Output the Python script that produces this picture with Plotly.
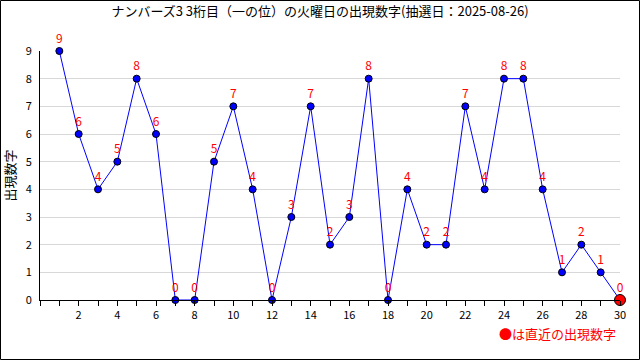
import plotly.graph_objects as go

draws = list(range(1, 31))
values = [9, 6, 4, 5, 8, 6, 0, 0, 5, 7, 4, 0, 3, 7, 2, 3, 8, 0, 4, 2, 2, 7, 4, 8, 8, 4, 1, 2, 1, 0]
title = "ナンバーズ3 3桁目（一の位）の火曜日の出現数字(抽選日：2025-08-26)"
y_title = "出現数字"
note = "●は直近の出現数字"
x_ticks = list(range(2, 31, 2))
y_ticks = list(range(0, 10))

FONT = "Noto Sans CJK JP"

fig = go.Figure()
fig.add_trace(go.Scatter(
    x=draws, y=values, mode="lines+markers+text",
    line=dict(color="#0000ff", width=1),
    marker=dict(color="#0000ff", size=7, line=dict(color="black", width=1)),
    text=[str(v) for v in values], textposition="top center",
    textfont=dict(color="#ff0000", size=12, family=FONT),
    cliponaxis=False, showlegend=False, hoverinfo="skip",
))
fig.add_trace(go.Scatter(
    x=[draws[-1]], y=[values[-1]], mode="markers",
    marker=dict(color="#ff0000", size=11, line=dict(color="black", width=1)),
    cliponaxis=False, showlegend=False, hoverinfo="skip",
))

L, R, T, B = 40, 20, 51, 60
W, H = 640, 360
pw, ph = W - L - R, H - T - B

fig.update_layout(
    width=W, height=H,
    margin=dict(l=L, r=R, t=T, b=B, autoexpand=False),
    paper_bgcolor="white", plot_bgcolor="white",
    font=dict(family=FONT, size=11, color="black"),
    title=dict(text=title, x=0.5, xanchor="center", y=1 - 11 / H, yanchor="middle",
               font=dict(size=13, family=FONT, color="black")),
    xaxis=dict(range=[0, 30], tickvals=x_ticks, showgrid=False, zeroline=False,
               showline=True, linecolor="black", linewidth=1, automargin=False,
               ticks="outside", ticklen=5, tickcolor="black",
               minor=dict(dtick=1, tick0=0, ticks="outside", ticklen=5, tickcolor="black", showgrid=False),
               tickfont=dict(size=11)),
    yaxis=dict(range=[0, 9], tickvals=y_ticks, showgrid=True, gridcolor="#d8d8d8",
               zeroline=False, showline=True, linecolor="black", linewidth=1, automargin=False,
               ticks="", ticklabelstandoff=5, tickfont=dict(size=11),
               title=dict(text=y_title, font=dict(size=13), standoff=10)),
    annotations=[dict(text=note, xref="paper", yref="paper",
                      x=1 + (618 - 620) / pw, y=-(333 - 300) / ph,
                      xanchor="right", yanchor="middle", showarrow=False,
                      font=dict(color="#ff0000", size=13, family=FONT))],
    shapes=[dict(type="rect", xref="paper", yref="paper",
                 x0=-(L - 0.5) / pw, x1=1 + (R - 0.5) / pw,
                 y0=-(B - 0.5) / ph, y1=1 + (T - 0.5) / ph,
                 line=dict(color="black", width=1))],
)

fig.write_html("out.html", config={"displayModeBar": False},
               post_script="document.body.style.margin='0';")
